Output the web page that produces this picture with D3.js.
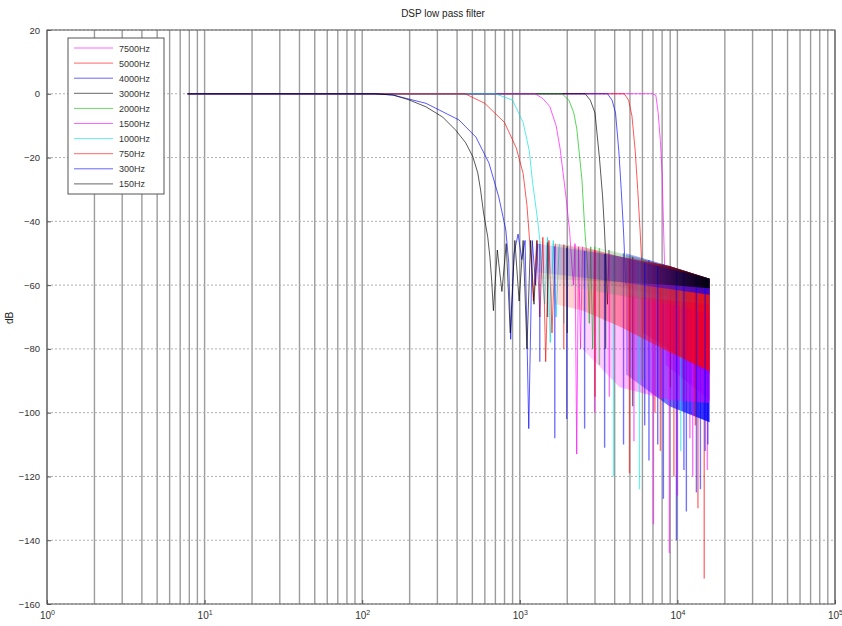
<!DOCTYPE html>
<html><head><meta charset="utf-8">
<script src="https://cdn.jsdelivr.net/npm/d3@7"></script>
<style>
body{margin:0;background:#fff;}
svg{font-family:"Liberation Sans",Arial,sans-serif;}
</style></head>
<body><svg id="chart" width="842" height="626"></svg>
<script>
// ---------- DATA ----------
const title = "DSP low pass filter";
const yLabel = "dB";
const xTicks = [1, 10, 100, 1000, 10000, 100000];
const yTicks = [20, 0, -20, -40, -60, -80, -100, -120, -140, -160];
const labels = ["7500Hz","5000Hz","4000Hz","3000Hz","2000Hz","1500Hz","1000Hz","750Hz","300Hz","150Hz"];
const colors = ["#ff00ff","#ff0000","#0000ff","#000000","#00c000","#ff00ff","#00e0e0","#ff0000","#0000ff","#000000"];

// main lobe + first visible side lobes: [Hz, dB]
const main7500 = [[7.8,0],[7000,0],[7300,-0.5],[7550,-6],[7800,-15],[8000,-25],[8150,-40],[8300,-55],[8400,-60]];
const main5000 = [[7.8,0],[4600,0],[4900,-2],[5150,-7],[5400,-18],[5600,-30],[5800,-43],[5950,-54],[6050,-60]];
const main4000 = [[7.8,0],[3600,0],[3850,-2],[4050,-6],[4250,-18],[4400,-30],[4550,-43],[4650,-54],[4720,-60]];
const main3000 = [[7.8,0],[2600,0],[2800,-2],[3000,-6],[3200,-20],[3350,-32],[3450,-43],[3550,-58],[3600,-66],[3680,-49]];
const main2000 = [[7.8,0],[1850,0],[2050,-2],[2200,-6],[2300,-11],[2480,-27],[2580,-42],[2680,-53],[2720,-60],[2760,-72],[2820,-48],[2900,-80],[2980,-48]];
const main1500 = [[7.8,0],[1250,0],[1400,-1.5],[1550,-4],[1700,-10],[1800,-17],[1960,-32],[2070,-43],[2150,-55],[2190,-60],[2240,-47],[2296,-113],[2360,-48],[2430,-80],[2500,-48]];
const main1000 = [[7.8,0],[700,0],[900,-2],[1050,-9],[1150,-18],[1200,-27],[1300,-40],[1340,-46],[1390,-58],[1440,-66],[1500,-45],[1560,-78],[1630,-46],[1700,-70],[1780,-47]];
const main750  = [[7.8,0],[450,0],[600,-3],[800,-9],[950,-17],[1050,-25],[1110,-35],[1150,-45],[1190,-55],[1220,-65],[1280,-46],[1340,-70],[1400,-45],[1460,-84],[1530,-46],[1600,-75],[1680,-47]];
const main300  = [[7.8,0],[120,0],[157,-0.4],[254,-3],[411,-8.2],[527,-13.6],[637,-21.7],[736,-32.4],[815,-42.7],[851,-53],[875,-77],[920,-50],[975,-44],[1030,-52],[1080,-46],[1140,-105],[1200,-46],[1260,-60],[1300,-47]];
const main150  = [[7.8,0],[120,0],[157,-0.4],[198,-1.9],[254,-4.1],[324,-7.3],[392,-11.4],[454,-15.4],[504,-19.8],[541,-24.8],[564,-30.2],[589,-37.4],[626,-44.9],[646,-51.2],[663,-58.4],[680,-68],[720,-49],[770,-62],[820,-47],[870,-75],[930,-46],[990,-65],[1050,-46],[1110,-80],[1170,-46],[1230,-66],[1290,-46]];

// dense side-lobe region: [Hz, top dB, bottom dB]
const band7500 = [[8400,-54,-85],[16000,-58,-96]];
const band5000 = [[6050,-52,-75],[16000,-58,-88]];
const band4000 = [[4720,-50,-88],[8900,-54,-98],[16000,-58,-103]];
const band3000 = [[3680,-49,-60],[16000,-58,-66]];
const band2000 = [[2980,-48,-62],[8900,-54,-66],[16000,-58,-69]];
const band1500 = [[2500,-48,-80],[4300,-51,-92],[8900,-54,-96],[16000,-58,-97]];
const band1000 = [[1780,-47,-60],[4300,-51,-63],[16000,-58,-66]];
const band750  = [[1680,-47,-66],[2500,-48,-68],[4300,-51,-73],[8900,-54,-81],[16000,-58,-87]];
const band300  = [[1300,-47,-56],[4300,-51,-59],[16000,-58,-63]];
const band150  = [[1290,-46,-58],[4300,-51,-59],[8900,-54,-60],[16000,-58,-61]];

// deep nulls: [Hz, dB]
const nulls7500 = [[10000,-126],[12000,-108],[15500,-118]];
const nulls5000 = [[7200,-100],[9500,-120],[13500,-130],[14800,-152]];
const nulls4000 = [[4552,-110],[6600,-115],[8150,-127],[11400,-131],[14000,-124],[15600,-110]];
const nulls3000 = [[5200,-98],[9000,-92]];
const nulls2000 = [[3200,-85],[6000,-90],[11000,-95]];
const nulls1500 = [[2985,-100],[3700,-95],[5300,-109],[7047,-135],[8896,-144],[12500,-120]];
const nulls1000 = [[1900,-72],[3937,-120],[5745,-124],[10500,-112]];
const nulls750  = [[1900,-80],[3000,-95],[4966,-119],[7800,-112],[13000,-104]];
const nulls300  = [[1339,-84],[1667,-108],[1984,-102],[2578,-105],[3453,-111],[6200,-104],[7500,-110],[9860,-140],[11000,-118],[13200,-125],[15000,-112]];
const nulls150  = [[1500,-70],[2000,-75],[3500,-80]];

const mains = [main7500,main5000,main4000,main3000,main2000,main1500,main1000,main750,main300,main150];
const bands = [band7500,band5000,band4000,band3000,band2000,band1500,band1000,band750,band300,band150];
const nulls = [nulls7500,nulls5000,nulls4000,nulls3000,nulls2000,nulls1500,nulls1000,nulls750,nulls300,nulls150];
// band opacity at its left end, at 60 % of its width, and at its right end
const bandOpStart = [0.35,0.3,0.3,0.08,0.1,0.15,0.1,0.12,0.1,0.04];
const bandOpMid   = [0.5,0.45,0.6,0.18,0.25,0.35,0.2,0.45,0.3,0.15];
const bandOpEnd   = [0.6,0.6,0.85,0.5,0.45,0.5,0.35,0.85,0.7,0.95];

// ---------- LAYOUT ----------
const L = 47, R = 835, T = 30, B = 604;
const svg = d3.select("#chart");
const defs = svg.append("defs");
const x = d3.scaleLog().domain([1, 1e5]).range([L, R]);
const y = d3.scaleLinear().domain([-160, 20]).range([B, T]);

// vertical grid (major + minor)
const vgrid = [];
for (let k = 0; k < 5; k++) for (let m = 1; m < 10; m++) vgrid.push(m * Math.pow(10, k));
vgrid.push(1e5);
svg.append("g").selectAll("line").data(vgrid).join("line")
  .attr("x1", d => x(d)).attr("x2", d => x(d)).attr("y1", T).attr("y2", B)
  .attr("stroke", "#9c9c9c").attr("stroke-width", 1.4);

// horizontal grid (dotted)
svg.append("g").selectAll("line").data(yTicks).join("line")
  .attr("x1", L).attr("x2", R).attr("y1", d => y(d)).attr("y2", d => y(d))
  .attr("stroke", "#b0b0b0").attr("stroke-width", 1).attr("stroke-dasharray", "2,2");

// curves
const plot = svg.append("g");
const line = d3.line().x(d => x(d[0])).y(d => y(d[1]));
const area = d3.area().x(d => x(d[0])).y0(d => y(d[2])).y1(d => y(d[1]));
function topAt(band, f) {
  const s = d3.scaleLog().domain(band.map(d => d[0])).range(band.map(d => d[1])).clamp(true);
  return s(f);
}
mains.forEach((m, i) => {
  const c = colors[i];
  const b = bands[i];
  const gid = "g" + i;
  const g = defs.append("linearGradient").attr("id", gid).attr("gradientUnits", "userSpaceOnUse")
    .attr("x1", x(b[0][0])).attr("x2", x(b[b.length - 1][0])).attr("y1", 0).attr("y2", 0);
  g.append("stop").attr("offset", 0).attr("stop-color", c).attr("stop-opacity", bandOpStart[i]);
  g.append("stop").attr("offset", 0.6).attr("stop-color", c).attr("stop-opacity", bandOpMid[i]);
  g.append("stop").attr("offset", 1).attr("stop-color", c).attr("stop-opacity", bandOpEnd[i]);
  plot.append("path").datum(b).attr("d", area).attr("fill", `url(#${gid})`).attr("stroke", "none");
  plot.append("g").selectAll("line").data(nulls[i]).join("line")
    .attr("x1", d => x(d[0])).attr("x2", d => x(d[0]))
    .attr("y1", d => y(topAt(b, d[0]))).attr("y2", d => y(d[1]))
    .attr("stroke", c).attr("stroke-opacity", 0.55).attr("stroke-width", 1.4);
  plot.append("path").datum(m).attr("d", line)
    .attr("fill", "none").attr("stroke", c).attr("stroke-opacity", 0.65).attr("stroke-width", 1);
});

// axes box
svg.append("rect").attr("x", L).attr("y", T).attr("width", R - L).attr("height", B - T)
  .attr("fill", "none").attr("stroke", "#555").attr("stroke-width", 1);

// x axis
const xa = svg.append("g").attr("transform", `translate(0,${B})`)
  .call(d3.axisBottom(x).tickValues(xTicks).tickSize(-4).tickPadding(8));
xa.select(".domain").remove();
xa.selectAll(".tick line").attr("stroke", "#555");
xa.selectAll(".tick text").each(function(d) {
  const t = d3.select(this);
  t.text("10").attr("font-size", 10).attr("fill", "#333").attr("font-family", "Liberation Sans, Arial, sans-serif");
  t.append("tspan").attr("dy", "-0.55em").attr("font-size", 7).text(Math.round(Math.log10(d)));
});

// y axis
const ya = svg.append("g").attr("transform", `translate(${L},0)`)
  .call(d3.axisLeft(y).tickValues(yTicks).tickSize(-4).tickPadding(7));
ya.select(".domain").remove();
ya.selectAll(".tick line").attr("stroke", "#555");
ya.selectAll(".tick text").attr("font-size", 9.5).attr("fill", "#333")
  .attr("font-family", "Liberation Sans, Arial, sans-serif");

// title / labels
svg.append("text").attr("x", 443).attr("y", 17).attr("text-anchor", "middle")
  .attr("font-size", 10).attr("fill", "#222").text(title);
svg.append("text").attr("transform", "translate(13,318) rotate(-90)").attr("text-anchor", "middle")
  .attr("font-size", 10).attr("fill", "#222").text(yLabel);

// legend
const lg = svg.append("g");
lg.append("rect").attr("x", 68).attr("y", 38).attr("width", 96).attr("height", 156)
  .attr("fill", "#fff").attr("stroke", "#555").attr("stroke-width", 1);
labels.forEach((lab, i) => {
  const yy = 48 + i * 15.1;
  lg.append("line").attr("x1", 74).attr("x2", 113).attr("y1", yy).attr("y2", yy)
    .attr("stroke", colors[i]).attr("stroke-opacity", 0.6).attr("stroke-width", 1);
  lg.append("text").attr("x", 119).attr("y", yy + 3.5).attr("font-size", 9).attr("fill", "#333").text(lab);
});
</script></body></html>
